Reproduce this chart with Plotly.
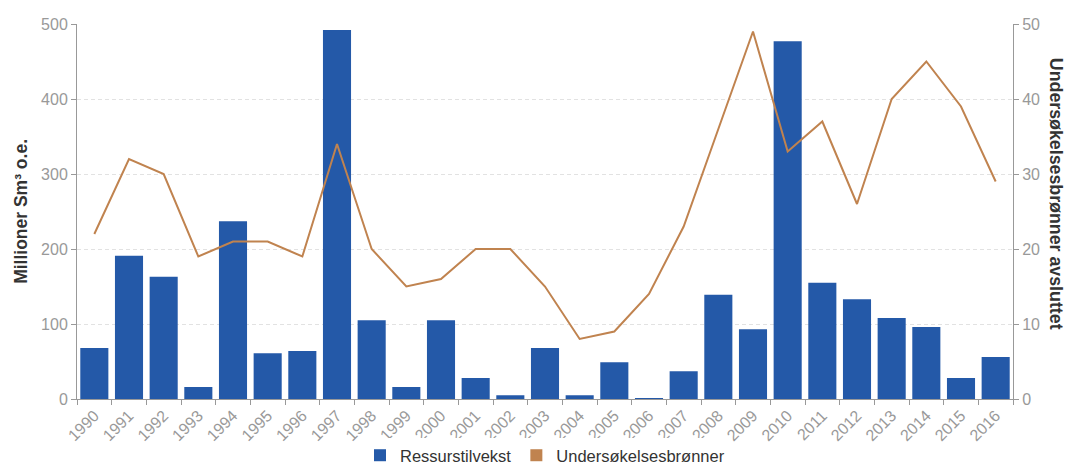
import plotly.graph_objects as go

years = [str(y) for y in range(1990, 2017)]
ressurstilvekst = [68, 191, 163, 16, 237, 61, 64, 492, 105, 16, 105, 28, 5, 68,
                   5, 49, 1, 37, 139, 93, 477, 155, 133, 108, 96, 28, 56]
bronner = [22, 32, 30, 19, 21, 21, 19, 34, 20, 15, 16, 20, 20, 15,
           8, 9, 14, 23, 36, 49, 33, 37, 26, 40, 45, 39, 29]

left_ticks = [0, 100, 200, 300, 400, 500]
right_ticks = [0, 10, 20, 30, 40, 50]

BAR = "#2459a8"
LINE = "#c0834f"
FONT = "Liberation Sans, Arial, sans-serif"

fig = go.Figure()
fig.add_trace(go.Bar(x=years, y=ressurstilvekst, name="Ressurstilvekst",
                     marker=dict(color=BAR, line=dict(width=0))))
fig.add_trace(go.Scatter(x=years, y=bronner, yaxis="y2", mode="lines",
                         line=dict(color=LINE, width=2), showlegend=False,
                         name="Undersøkelsesbrønner"))
# legend entry with a square swatch for the line series
fig.add_trace(go.Scatter(x=[None], y=[None], yaxis="y2", mode="markers",
                         marker=dict(color=LINE, symbol="square", size=12),
                         name="Undersøkelsesbrønner"))

axis_common = dict(showline=True, linecolor="#999", linewidth=1,
                   ticks="outside", tickcolor="#999", ticklen=5,
                   automargin=False,
                   tickfont=dict(color="#999", size=16, family=FONT))

fig.update_layout(
    width=1071, height=473,
    margin=dict(l=77, r=58, t=24, b=74, autoexpand=False),
    paper_bgcolor="white", plot_bgcolor="white",
    font=dict(family=FONT),
    bargap=0.19,
    xaxis=dict(**axis_common, tickangle=-45, tickson="boundaries",
               showgrid=False),
    yaxis=dict(**axis_common, range=[0, 500], tickvals=left_ticks,
               showgrid=True, gridcolor="#e2e2e2", griddash="4px,3px",
               zeroline=False),
    yaxis2=dict(**axis_common, range=[0, 50], tickvals=right_ticks,
                overlaying="y", side="right", showgrid=False, zeroline=False),
    legend=dict(orientation="h", x=0.5, xanchor="center",
                yref="container", y=-0.015, yanchor="bottom",
                font=dict(size=16.5, color="#333", family=FONT),
                itemsizing="constant", traceorder="normal"),
    annotations=[
        dict(text="<b>Millioner Sm³ o.e.</b>", textangle=-90,
             xref="paper", yref="paper", x=-0.0605, y=0.5, xanchor="center",
             yanchor="middle", showarrow=False,
             font=dict(size=17.5, color="#333", family=FONT)),
        dict(text="<b>Undersøkelsesbrønner avsluttet</b>", textangle=90,
             xref="paper", yref="paper", x=1.046, y=0.547, xanchor="center",
             yanchor="middle", showarrow=False,
             font=dict(size=17.8, color="#333", family=FONT)),
    ],
)

fig.write_html("out.html")
